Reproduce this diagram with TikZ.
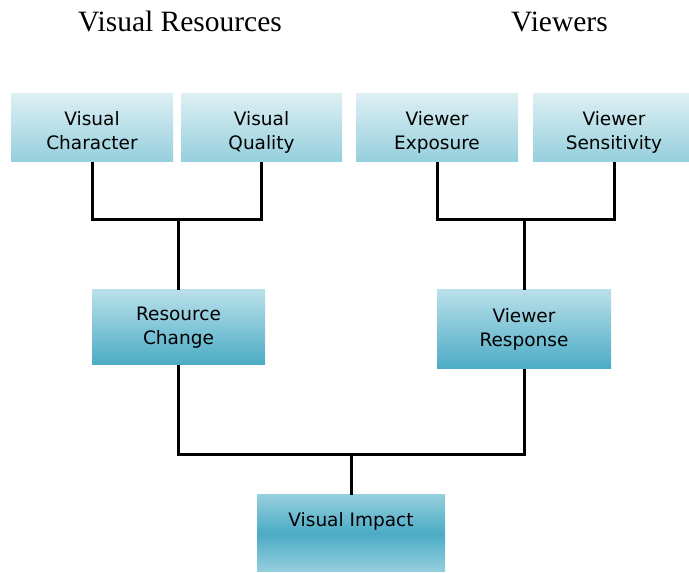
\documentclass[tikz,border=0pt]{standalone}
\usepackage{fontspec}
\usepackage{tikz}
\newfontfamily\titlefont{Liberation Serif}
\newfontfamily\boxfont{DejaVu Sans}
\definecolor{palecyan}{HTML}{DDEFF4}
\definecolor{midcyan}{HTML}{95CFDD}
\definecolor{lightcyan}{HTML}{B9E0EA}
\definecolor{deepcyan}{HTML}{4BABC5}

\tikzset{
    box/.style={inner sep=0pt, align=center,
        font=\boxfont\fontsize{18.5}{24.5}\selectfont},
    small/.style={box, top color=palecyan, bottom color=midcyan,
        minimum width=162, minimum height=68, text height=44, text depth=0},
    mid/.style={box, top color=lightcyan, bottom color=deepcyan},
    conn/.style={line width=3pt, black},
    heading/.style={anchor=base, font=\titlefont\fontsize{29.5}{31}\selectfont}
}

\begin{document}
\begin{tikzpicture}[x=1pt, y=1pt]
            \useasboundingbox (0,0) rectangle (689,573);
            % headings
            \node[heading] (resources) at (180,541) {Visual Resources};
            \node[heading] (viewers) at (559.5,541) {Viewers};

            % top row
            \node[small] (character) at (92,445) {Visual\\Character};
            \node[small, minimum width=161] (quality) at (261.5,445) {Visual\\Quality};
            \node[small] (exposure) at (437,445) {Viewer\\Exposure};
            \node[small] (sensitivity) at (614,445) {Viewer\\Sensitivity};

            % middle row
            \node[mid, minimum width=173, minimum height=75] (change) at (178.5,245.5) {Resource\\Change};
            \node[mid, minimum width=174, minimum height=79] (response) at (524,243.5) {Viewer\\Response};

            % bottom
            \node[box, minimum width=188, minimum height=77, text height=13, text depth=27,
                top color=midcyan, bottom color=midcyan, middle color=deepcyan] (impact) at (351,39.5) {Visual Impact};

            % joints
            \coordinate (leftjoin) at (178.5,353);
            \coordinate (rightjoin) at (524,353);
            \coordinate (lowjoin) at (351,118);

            \draw[conn] (character.south) |- (leftjoin) -| (quality.south);
            \draw[conn] (leftjoin) -- (change.north);
            \draw[conn] (exposure.south) |- (rightjoin) -| (sensitivity.south);
            \draw[conn] (rightjoin) -- (response.north);
            \draw[conn] (change.south) |- (lowjoin) -| (response.south);
            \draw[conn] (lowjoin) -- (impact.north);
        \end{tikzpicture}
\end{document}
